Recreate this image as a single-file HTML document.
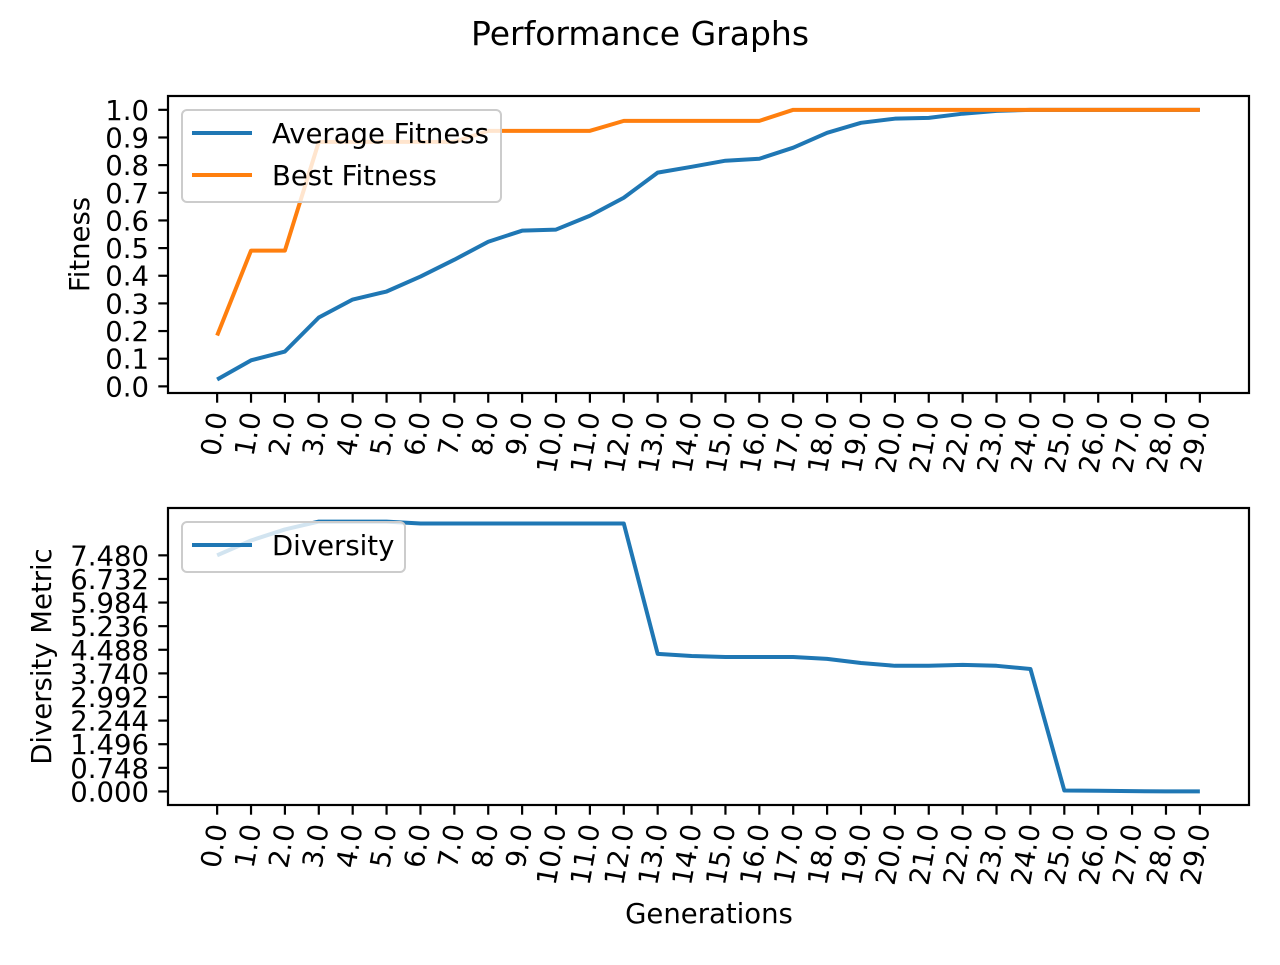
<!DOCTYPE html>
<html><head><meta charset="utf-8"><style>
body{margin:0;background:#fff}
text{font-family:"DejaVu Sans","Liberation Sans",sans-serif;fill:#000}
</style></head><body>
<svg id="chart" width="1280" height="960" xmlns="http://www.w3.org/2000/svg">
<rect width="1280" height="960" fill="#fff"/>
<text x="640" y="45" font-size="33" text-anchor="middle">Performance Graphs</text>
</svg>
<script>
const generations=[0,1,2,3,4,5,6,7,8,9,10,11,12,13,14,15,16,17,18,19,20,21,22,23,24,25,26,27,28,29];
const avgFitness=[0.025,0.094,0.126,0.249,0.314,0.343,0.397,0.458,0.523,0.563,0.567,0.617,0.682,0.773,0.794,0.816,0.823,0.863,0.917,0.953,0.968,0.971,0.986,0.996,1.0,1.0,1.0,1.0,1.0,1.0];
const bestFitness=[0.184,0.491,0.491,0.884,0.884,0.884,0.884,0.884,0.924,0.924,0.924,0.924,0.96,0.96,0.96,0.96,0.96,1.0,1.0,1.0,1.0,1.0,1.0,1.0,1.0,1.0,1.0,1.0,1.0,1.0];
const diversity=[7.48,7.95,8.30,8.55,8.55,8.55,8.49,8.49,8.49,8.49,8.49,8.49,8.49,4.36,4.29,4.26,4.26,4.26,4.20,4.07,3.98,3.98,4.01,3.98,3.88,0.03,0.02,0.01,0,0];
const fitTicks=[0,0.1,0.2,0.3,0.4,0.5,0.6,0.7,0.8,0.9,1.0];
const divTicks=[0,0.748,1.496,2.244,2.992,3.74,4.488,5.236,5.984,6.732,7.48];

const svg=document.getElementById('chart');
const NS='http://www.w3.org/2000/svg';
function el(tag,attrs,parent){const e=document.createElementNS(NS,tag);for(const k in attrs)e.setAttribute(k,attrs[k]);(parent||svg).appendChild(e);return e;}
const L=168,R=1249;
const xmin=-1.45,xmax=30.45;
const sx=v=>L+(v-xmin)/(xmax-xmin)*(R-L);
const FS=27.5;

function panel(top,bot,ymin,ymax,ticks,fmt,series,ylabel,ylabelX,name,legendW,legTop){
  const sy=v=>bot-(v-ymin)/(ymax-ymin)*(bot-top);
  const g=el('g',{});
  
  
  series.forEach(s=>{
    const p=el('polyline',{points:generations.map((x,i)=>sx(x)+','+sy(s.data[i])).join(' '),fill:'none',stroke:s.color,'stroke-width':4,'stroke-linejoin':'round'},g);
    
    
  });
  ticks.forEach(t=>{
    const y=sy(t);
    el('line',{x1:L,x2:L-9.7,y1:y,y2:y,stroke:'#000','stroke-width':2.2},g);
    const tx=el('text',{x:L-19,y:y+10,'font-size':FS,'text-anchor':'end'},g);
    tx.textContent=fmt(t);
    
    
  });
  generations.forEach(v=>{
    const x=sx(v);
    el('line',{x1:x,x2:x,y1:bot,y2:bot+9.7,stroke:'#000','stroke-width':2.2},g);
    const tx=el('text',{x:0,y:0,'font-size':FS,'text-anchor':'end',transform:`translate(${x+10},${bot+21}) rotate(-80)`},g);
    tx.textContent=v.toFixed(1);
    
    
  });
  const yl=el('text',{x:0,y:0,'font-size':FS,'text-anchor':'middle',transform:`translate(${ylabelX},${(top+bot)/2}) rotate(-90)`},g);
  yl.textContent=ylabel;
  
  
  // legend
  const lh=series.length*42+8;
  const lg=el('rect',{x:182,y:legTop,width:legendW,height:lh,rx:5,fill:'#fff','fill-opacity':0.8,stroke:'#ccc','stroke-width':2},g);
  
  
  series.forEach((s,i)=>{
    const y=legTop+23+i*42;
    el('line',{x1:192,x2:252,y1:y,y2:y,stroke:s.color,'stroke-width':4},g);
    const t=el('text',{x:272,y:y+10,'font-size':FS},g);
    t.textContent=s.label;
    
    
  });
  const fr=el('rect',{x:L,y:top,width:R-L,height:bot-top,fill:'none',stroke:'#000','stroke-width':2.2},g);
  
  
  return g;
}
panel(96,393,-0.024,1.05,fitTicks,v=>v.toFixed(1),[
  {data:avgFitness,color:'#1f77b4',label:'Average Fitness',name:'average-fitness-line'},
  {data:bestFitness,color:'#ff7f0e',label:'Best Fitness',name:'best-fitness-line'}],'Fitness',89,'fitness-panel',319,110);
panel(508,805,-0.43,8.98,divTicks,v=>v.toFixed(3),[
  {data:diversity,color:'#1f77b4',label:'Diversity',name:'diversity-line'}],'Diversity Metric',51,'diversity-panel',223,522);
const xl=el('text',{x:709,y:923,'font-size':FS,'text-anchor':'middle'});
xl.textContent='Generations';


</script>
</body></html>
